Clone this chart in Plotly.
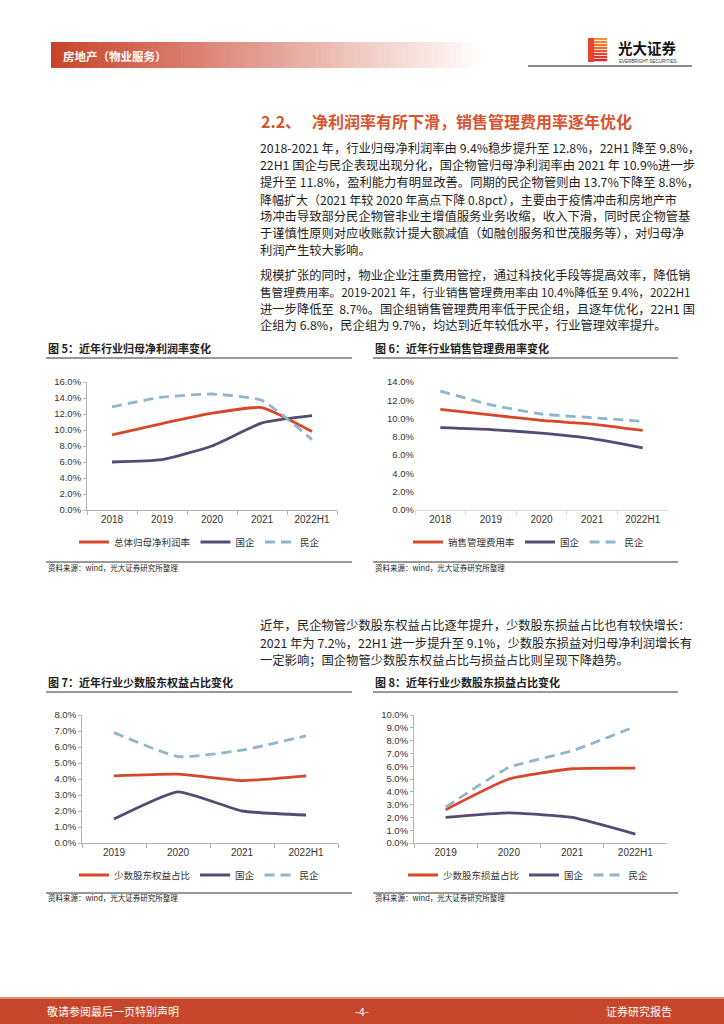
import plotly.graph_objects as go

# ---------------- data ----------------
years_a = ['2018', '2019', '2020', '2021', '2022H1']
years_b = ['2019', '2020', '2021', '2022H1']

# 图5 归母净利润率 (%)
np_total = [9.4, 10.8, 12.1, 12.8, 9.8]
np_soe = [6.0, 6.3, 8.0, 10.9, 11.8]
np_private = [12.9, 14.1, 14.5, 13.7, 8.8]

# 图6 销售管理费用率 (%)
sga_total = [11.0, 10.4, 9.8, 9.4, 8.7]
sga_soe = [9.0, 8.8, 8.4, 7.8, 6.8]
sga_private = [13.0, 11.5, 10.5, 10.1, 9.7]

# 图7 少数股东权益占比 (%)
mi_total = [4.2, 4.3, 3.9, 4.2]
mi_soe = [1.5, 3.2, 2.0, 1.75]
mi_private = [6.9, 5.4, 5.8, 6.7]

# 图8 少数股东损益占比 (%)
mpl_total = [2.6, 5.0, 5.8, 5.85]
mpl_soe = [2.0, 2.35, 2.0, 0.7]
mpl_private = [2.8, 5.9, 7.2, 9.1]

names5 = ['总体归母净利润率', '国企', '民企']
names6 = ['销售管理费用率', '国企', '民企']
names7 = ['少数股东权益占比', '国企', '民企']
names8 = ['少数股东损益占比', '国企', '民企']

# ---------------- style ----------------
W, H = 724, 1024
CJK = 'Noto Sans CJK SC'
LAT = 'Liberation Sans'
RED = '#d9472b'
PURPLE = '#544a73'
BLUE = '#8fb6ca'
TXT = '#1e1e1e'


def X(px):
    return px / W


def Y(py):
    return 1 - py / H


fig = go.Figure()

charts = [
    dict(ax='', years=years_a, series=[np_total, np_soe, np_private], names=names5,
         x0=87, x1=337, y0=382, y1=510, ymax=16, dtick=2, yline=True, leg=(74, 542)),
    dict(ax='2', years=years_a, series=[sga_total, sga_soe, sga_private], names=names6,
         x0=415, x1=668, y0=382, y1=510, ymax=14, dtick=2, yline=False, leg=(408, 542)),
    dict(ax='3', years=years_b, series=[mi_total, mi_soe, mi_private], names=names7,
         x0=82, x1=338, y0=715, y1=843, ymax=8, dtick=1, yline=True, leg=(74, 875)),
    dict(ax='4', years=years_b, series=[mpl_total, mpl_soe, mpl_private], names=names8,
         x0=414, x1=667, y0=715, y1=843, ymax=10, dtick=1, yline=True, leg=(403, 875)),
]

styles = [dict(color=RED, width=2.8), dict(color=PURPLE, width=2.8),
          dict(color=BLUE, width=2.8, dash='10px,6px')]

layout_axes = {}
legends = {}
for i, c in enumerate(charts):
    ax = c['ax']
    legname = 'legend' + ax
    for s, nm, st in zip(c['series'], c['names'], styles):
        fig.add_trace(go.Scatter(
            x=c['years'], y=s, name=nm, mode='lines',
            line=dict(shape='spline', smoothing=0.45, **st),
            xaxis='x' + ax, yaxis='y' + ax, legend=legname,
            cliponaxis=False, hoverinfo='skip'))
    axis_col = '#b3b3b3' if c['yline'] else '#d9d9d9'
    layout_axes['xaxis' + ax] = dict(
        domain=[X(c['x0']), X(c['x1'])], anchor='y' + ax, type='category',
        range=[-0.5, len(c['years']) - 0.5], showgrid=False, zeroline=False,
        showline=True, linecolor=axis_col, linewidth=1, ticks='outside',
        tickson='boundaries', ticklen=4, tickcolor=axis_col, automargin=False,
        tickfont=dict(family=LAT, size=10, color='#333333'), fixedrange=True)
    layout_axes['yaxis' + ax] = dict(
        domain=[Y(c['y1']), Y(c['y0'])], anchor='x' + ax, range=[0, c['ymax']],
        dtick=c['dtick'], tick0=0, tickformat='.1f', ticksuffix='%',
        showgrid=False, zeroline=False, showline=c['yline'], linecolor=axis_col,
        linewidth=1, ticks='outside' if c['yline'] else '', ticklen=3,
        tickcolor=axis_col, tickfont=dict(family=LAT, size=9.5, color='#333333'),
        automargin=False, fixedrange=True)
    legends[legname] = dict(
        x=X(c['leg'][0]), y=Y(c['leg'][1]), xanchor='left', yanchor='middle',
        orientation='h', bgcolor='rgba(0,0,0,0)', borderwidth=0,
        font=dict(family=CJK, size=9.5, color='#333333'), itemclick=False,
        itemdoubleclick=False, traceorder='normal')

shapes = []
annotations = []


def text(x, y, s, size=12, color=TXT, family=CJK, xanchor='left', bold=False):
    annotations.append(dict(
        x=X(x), y=Y(y), xref='paper', yref='paper', text=('<b>%s</b>' % s) if bold else s,
        showarrow=False, xanchor=xanchor, yanchor='middle',
        font=dict(family=family, size=size, color=color)))


def rect(x0, y0, x1, y1, color):
    shapes.append(dict(type='rect', xref='paper', yref='paper', x0=X(x0), x1=X(x1),
                       y0=Y(y1), y1=Y(y0), fillcolor=color, line=dict(width=0),
                       layer='below'))


def hline(x0, x1, y, color='#333333', width=1):
    shapes.append(dict(type='line', xref='paper', yref='paper', x0=X(x0), x1=X(x1),
                       y0=Y(y), y1=Y(y), line=dict(color=color, width=width)))


# header gradient bar
N = 90
gx0, gx1 = 51, 485
c0 = (200, 67, 42)
for k in range(N):
    t = k / (N - 1)
    col = tuple(int(round(c0[j] + (255 - c0[j]) * t)) for j in range(3))
    rect(gx0 + (gx1 - gx0) * k / N, 42, gx0 + (gx1 - gx0) * (k + 1) / N + 0.6, 68,
         'rgb(%d,%d,%d)' % col)
text(61, 56, '房地产（物业服务）', size=11.5, color='white', bold=True)

# logo
for k in range(8):
    t = k / 7
    col = (int(245 - 12 * t), int(150 - 120 * t), int(60 - 25 * t))
    rect(588, 38 + 3 * k, 607, 40.2 + 3 * k, 'rgb(%d,%d,%d)' % col)
rect(588, 38, 594, 62, '#e8432e')
text(616, 47.5, '光大证券', size=14.5, color='#111111', bold=True)
text(617, 61.5, 'EVERBRIGHT SECURITIES', size=4.5, color='#333333', family=LAT)
hline(528, 692, 66, color='#8c8c8c', width=2)

# section title
text(259, 121, '2.2、', size=16, color='#d9532f', bold=True)
text(310, 121, '净利润率有所下滑，销售管理费用率逐年优化', size=16, color='#d9532f', bold=True)

para1 = [
    '2018-2021 年，行业归母净利润率由 9.4%稳步提升至 12.8%，22H1 降至 9.8%，',
    '22H1 国企与民企表现出现分化，国企物管归母净利润率由 2021 年 10.9%进一步',
    '提升至 11.8%，盈利能力有明显改善。同期的民企物管则由 13.7%下降至 8.8%，',
    '降幅扩大（2021 年较 2020 年高点下降 0.8pct），主要由于疫情冲击和房地产市',
    '场冲击导致部分民企物管非业主增值服务业务收缩，收入下滑，同时民企物管基',
    '于谨慎性原则对应收账款计提大额减值（如融创服务和世茂服务等），对归母净',
    '利润产生较大影响。',
]
para2 = [
    '规模扩张的同时，物业企业注重费用管控，通过科技化手段等提高效率，降低销',
    '售管理费用率。2019-2021 年，行业销售管理费用率由 10.4%降低至 9.4%，2022H1',
    '进一步降低至  8.7%。国企组销售管理费用率低于民企组，且逐年优化，22H1 国',
    '企组为 6.8%，民企组为 9.7%，均达到近年较低水平，行业管理效率提升。',
]
para3 = [
    '近年，民企物管少数股东权益占比逐年提升，少数股东损益占比也有较快增长：',
    '2021 年为 7.2%，22H1 进一步提升至 9.1%，少数股东损益对归母净利润增长有',
    '一定影响；国企物管少数股东权益占比与损益占比则呈现下降趋势。',
]
para1_sizes = [12.3, 12.3, 12.3, 12.0, 12.3, 12.3, 12.3]
para2_sizes = [12.3, 11.6, 12.3, 12.3]
for k, s in enumerate(para1):
    text(258, 148 + 17 * k, s, size=para1_sizes[k])
for k, s in enumerate(para2):
    text(258, 275 + 16.8 * k, s, size=para2_sizes[k])
for k, s in enumerate(para3):
    text(258, 625 + 17.5 * k, s, size=12.3)

# chart titles, rules and sources
text(46, 348, '图 5：近年行业归母净利润率变化', size=11, color='#222222', bold=True)
text(373, 348, '图 6：近年行业销售管理费用率变化', size=11, color='#222222', bold=True)
text(46, 682, '图 7：近年行业少数股东权益占比变化', size=11, color='#222222', bold=True)
text(373, 682, '图 8：近年行业少数股东损益占比变化', size=11, color='#222222', bold=True)
hline(46, 352, 358)
hline(373, 678, 358)
hline(46, 352, 692)
hline(373, 678, 692)
hline(46, 352, 562)
hline(373, 678, 562)
hline(46, 352, 893)
hline(373, 678, 893)
for x0, y0 in [(46, 567), (373, 567), (46, 897), (373, 897)]:
    text(x0, y0, '资料来源：wind，光大证券研究所整理', size=7.5, color='#222222')

# footer
rect(0, 997, 724, 998.5, '#e3917a')
rect(0, 998.5, 724, 1024, '#c5462a')
text(45, 1011, '敬请参阅最后一页特别声明', size=11, color='white')
text(362, 1011, '-4-', size=11, color='white', xanchor='center')
text(674, 1011, '证券研究报告', size=11, color='white', xanchor='right')

fig.update_layout(
    width=W, height=H, margin=dict(l=0, r=0, t=0, b=0, autoexpand=False),
    paper_bgcolor='white', plot_bgcolor='rgba(0,0,0,0)',
    shapes=shapes, annotations=annotations, showlegend=True,
    **layout_axes, **legends)

fig.write_html('out.html', config={'displayModeBar': False},
               post_script="document.body.style.margin='0';document.body.style.padding='0';")
